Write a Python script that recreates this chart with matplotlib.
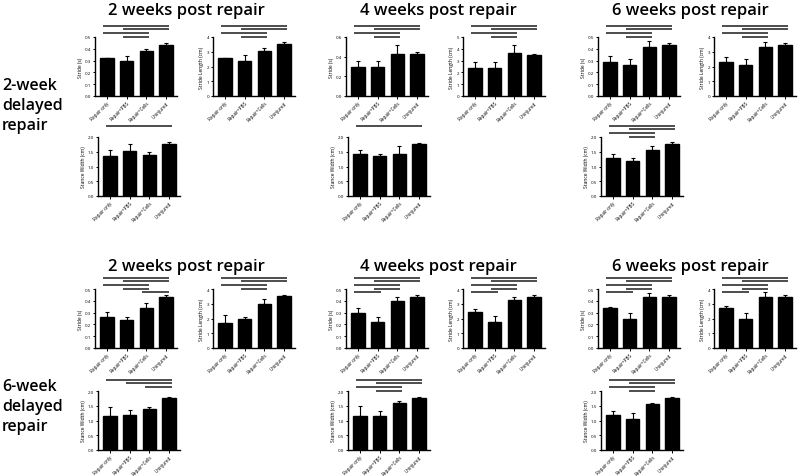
import matplotlib
matplotlib.use("Agg")
import matplotlib.pyplot as plt

plt.rcParams['font.family'] = ['Open Sans', 'DejaVu Sans']

groups = ["Repair only", "Repair+PBS", "Repair+Cells", "Uninjured"]
weeks = ["2 weeks post repair", "4 weeks post repair", "6 weeks post repair"]
row_labels = ["2-week\ndelayed\nrepair", "6-week\ndelayed\nrepair"]

# 2-week delayed repair (one list per time point: 2, 4, 6 weeks)
early_stride = [[0.32, 0.295, 0.38, 0.43], [0.30, 0.29, 0.43, 0.43], [0.29, 0.265, 0.415, 0.43]]
early_stride_err = [[0.005, 0.045, 0.02, 0.02], [0.055, 0.065, 0.085, 0.02], [0.045, 0.045, 0.05, 0.02]]
early_length = [[2.6, 2.4, 3.05, 3.5], [2.4, 2.35, 3.65, 3.45], [2.28, 2.1, 3.33, 3.45]]
early_length_err = [[0.0, 0.35, 0.2, 0.15], [0.45, 0.5, 0.7, 0.15], [0.35, 0.38, 0.35, 0.15]]
early_stance = [[1.37, 1.52, 1.40, 1.76], [1.41, 1.34, 1.44, 1.76], [1.30, 1.19, 1.55, 1.76]]
early_stance_err = [[0.18, 0.23, 0.08, 0.06], [0.14, 0.10, 0.25, 0.05], [0.14, 0.09, 0.14, 0.06]]

# 6-week delayed repair
late_stride = [[0.265, 0.24, 0.34, 0.43], [0.295, 0.22, 0.40, 0.43], [0.335, 0.25, 0.43, 0.43]]
late_stride_err = [[0.04, 0.025, 0.045, 0.02], [0.04, 0.045, 0.03, 0.02], [0.015, 0.045, 0.04, 0.02]]
late_length = [[1.72, 1.95, 2.95, 3.5], [2.42, 1.78, 3.23, 3.47], [2.7, 1.95, 3.48, 3.45]]
late_length_err = [[0.5, 0.17, 0.4, 0.12], [0.2, 0.4, 0.2, 0.15], [0.15, 0.42, 0.3, 0.15]]
late_stance = [[1.14, 1.20, 1.39, 1.76], [1.15, 1.15, 1.60, 1.76], [1.20, 1.05, 1.55, 1.76]]
late_stance_err = [[0.33, 0.15, 0.08, 0.05], [0.33, 0.17, 0.06, 0.05], [0.12, 0.2, 0.05, 0.05]]

# significance bars, listed top to bottom
sig4 = [(0, 3), (1, 3), (0, 2), (1, 2)]
sig5 = [(0, 3), (1, 3), (0, 2), (1, 2), (0, 1)]
early_stride_sig = [sig4, sig4, sig4]
early_length_sig = [sig4, sig4, sig4]
early_stance_sig = [[(0, 3)], [(0, 3)], sig4]
late_stride_sig = [[(0, 3), (1, 3), (0, 2), (1, 2), (2, 3)], sig5, sig5]
late_length_sig = [sig4, sig5, sig5]
late_stance_sig = [[(0, 3), (1, 3), (2, 3)], sig4, sig4]

W, H = 800, 477
fig = plt.figure(figsize=(8, 4.77), dpi=100)


def panel(left, top, vals, errs, sig, ylabel, ymax, yticks, tickfmt):
    ax = fig.add_axes([left / W, 1 - (top + 59) / H, 82 / W, 59 / H])
    x = range(len(groups))
    ax.bar(x, vals, width=0.68, color='black', edgecolor='black')
    ax.errorbar(x, vals, yerr=[[0] * len(errs), errs], fmt='none',
                ecolor='black', elinewidth=0.8, capsize=1.6, capthick=0.8)
    ax.set_xlim(-0.6, 3.55)
    ax.set_ylim(0, ymax)
    ax.set_yticks(yticks)
    ax.set_yticklabels([tickfmt.format(t) for t in yticks], fontsize=3.2)
    ax.set_xticks(list(x))
    ax.set_xticklabels(groups, rotation=45, ha='right', rotation_mode='anchor',
                       fontsize=3.3)
    ax.set_ylabel(ylabel, fontsize=3.6, labelpad=1.5)
    for s in ['top', 'right']:
        ax.spines[s].set_visible(False)
    for s in ['left', 'bottom']:
        ax.spines[s].set_linewidth(1.0)
    ax.tick_params(length=1.8, width=0.7, pad=1)
    for k, (i, j) in enumerate(sig):
        y = 1.19 - 0.062 * k
        ax.plot([i - 0.2, j + 0.15], [y, y], color='#4d4d4d', lw=1.4,
                transform=ax.get_xaxis_transform(), clip_on=False,
                solid_capstyle='butt')
    return ax


rows = [
    dict(stride=early_stride, stride_err=early_stride_err, stride_sig=early_stride_sig,
         length=early_length, length_err=early_length_err, length_sig=early_length_sig,
         stance=early_stance, stance_err=early_stance_err, stance_sig=early_stance_sig,
         top=38, stance_top=138, title_y=11, label_y=106),
    dict(stride=late_stride, stride_err=late_stride_err, stride_sig=late_stride_sig,
         length=late_length, length_err=late_length_err, length_sig=late_length_sig,
         stance=late_stance, stance_err=late_stance_err, stance_sig=late_stance_sig,
         top=290, stance_top=392, title_y=267, label_y=407),
]

stride_left = [95, 346, 598]
length_left = [213, 463, 714]
stance_left = [98, 348, 601]
title_x = [186, 438, 690]

# y axis scales for stride / length per row and week
stride_axes = [[(0.5, [0, .1, .2, .3, .4, .5]), (0.6, [0, .2, .4, .6]), (0.5, [0, .1, .2, .3, .4, .5])],
               [(0.5, [0, .1, .2, .3, .4, .5])] * 3]
length_axes = [[(4, [0, 1, 2, 3, 4]), (5, [0, 1, 2, 3, 4, 5]), (4, [0, 1, 2, 3, 4])],
               [(4, [0, 1, 2, 3, 4])] * 3]

for r, row in enumerate(rows):
    for w in range(3):
        ymax, yt = stride_axes[r][w]
        panel(stride_left[w], row['top'], row['stride'][w], row['stride_err'][w],
              row['stride_sig'][w], "Stride (s)", ymax, yt, "{:.1f}")
        ymax, yt = length_axes[r][w]
        panel(length_left[w], row['top'], row['length'][w], row['length_err'][w],
              row['length_sig'][w], "Stride Length (cm)", ymax, yt, "{:.0f}")
        panel(stance_left[w], row['stance_top'], row['stance'][w], row['stance_err'][w],
              row['stance_sig'][w], "Stance Width (cm)", 2.0, [0, 0.5, 1.0, 1.5, 2.0], "{:.1f}")
        fig.text(title_x[w] / W, 1 - row['title_y'] / H, weeks[w], ha='center', va='center',
                 fontsize=12, fontweight='semibold')
    fig.text(2 / W, 1 - row['label_y'] / H, row_labels[r], ha='left', va='center',
             fontsize=11.5, fontweight='semibold', linespacing=1.3)

fig.savefig("out.png", dpi=100, facecolor='white')
